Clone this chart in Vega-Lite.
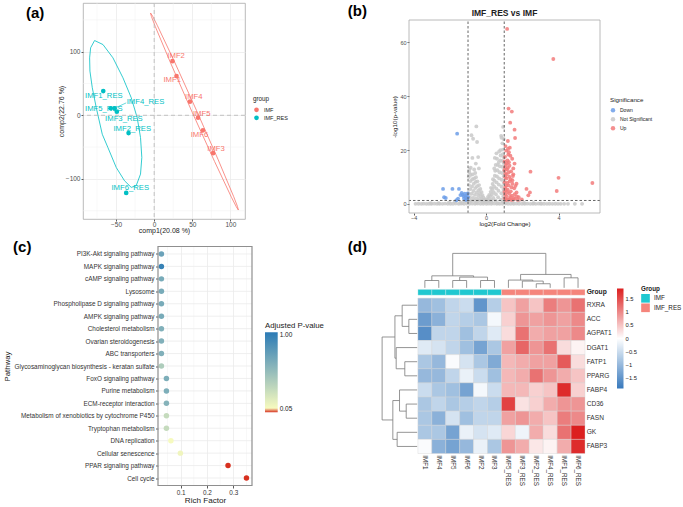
{
 "$schema": "https://vega.github.io/schema/vega-lite/v6.json",
 "padding": {"left": 3, "top": 2, "right": 0, "bottom": 0},
 "datasets": {
  "pca": [
   {"id":"IMF1","group":"IMF","x":29.3,"y":61.6,"lx":23.6,"ly":54.8},
   {"id":"IMF2","group":"IMF","x":24,"y":85,"lx":28.8,"ly":93},
   {"id":"IMF3","group":"IMF","x":77.3,"y":-59.5,"lx":81.2,"ly":-52.2},
   {"id":"IMF4","group":"IMF","x":47,"y":21.4,"lx":52,"ly":28.7},
   {"id":"IMF5","group":"IMF","x":57.6,"y":-3.7,"lx":62.4,"ly":2.6},
   {"id":"IMF6","group":"IMF","x":64,"y":-23.5,"lx":59.4,"ly":-30.8},
   {"id":"IMF1_RES","group":"IMF_RES","x":-66.8,"y":38,"lx":-66,"ly":30.3},
   {"id":"IMF2_RES","group":"IMF_RES","x":-33.6,"y":-28,"lx":-28.8,"ly":-21.4},
   {"id":"IMF3_RES","group":"IMF_RES","x":-49,"y":5.7,"lx":-39.7,"ly":-5.2},
   {"id":"IMF4_RES","group":"IMF_RES","x":-52,"y":11,"lx":-11.4,"ly":21.4,"cx":-36.7,"cy":19.5},
   {"id":"IMF5_RES","group":"IMF_RES","x":-57,"y":11,"lx":-66,"ly":9.4},
   {"id":"IMF6_RES","group":"IMF_RES","x":-36.7,"y":-122,"lx":-31.4,"ly":-115}
  ],
  "ell": [
   {"group":"IMF_RES","i":0,"x":-78.2,"y":117.5},{"group":"IMF_RES","i":1,"x":-83.4,"y":106},{"group":"IMF_RES","i":2,"x":-84.7,"y":90.3},{"group":"IMF_RES","i":3,"x":-84.3,"y":69.5},{"group":"IMF_RES","i":4,"x":-81.2,"y":43.3},{"group":"IMF_RES","i":5,"x":-76,"y":12},{"group":"IMF_RES","i":6,"x":-68.1,"y":-29.8},{"group":"IMF_RES","i":7,"x":-60.7,"y":-50.7},{"group":"IMF_RES","i":8,"x":-49.8,"y":-82},{"group":"IMF_RES","i":9,"x":-38.9,"y":-102.9},{"group":"IMF_RES","i":10,"x":-30.1,"y":-113.3},{"group":"IMF_RES","i":11,"x":-23.6,"y":-110.7},{"group":"IMF_RES","i":12,"x":-17.9,"y":-92.4},{"group":"IMF_RES","i":13,"x":-16.2,"y":-66.3},{"group":"IMF_RES","i":14,"x":-17.9,"y":-35},{"group":"IMF_RES","i":15,"x":-22.3,"y":-3.7},{"group":"IMF_RES","i":16,"x":-30.1,"y":27.7},{"group":"IMF_RES","i":17,"x":-41,"y":59},{"group":"IMF_RES","i":18,"x":-54.1,"y":90.3},{"group":"IMF_RES","i":19,"x":-67.2,"y":111.2},{"group":"IMF_RES","i":20,"x":-78.2,"y":117.5},
   {"group":"IMF","i":0,"x":110.5,"y":-148.9},{"group":"IMF","i":1,"x":109.3,"y":-143.2},{"group":"IMF","i":2,"x":104.2,"y":-127.4},{"group":"IMF","i":3,"x":84.1,"y":-70.1},{"group":"IMF","i":4,"x":55.6,"y":7.5},{"group":"IMF","i":5,"x":26.4,"y":84.8},{"group":"IMF","i":6,"x":4.3,"y":140.8},{"group":"IMF","i":7,"x":-2.1,"y":156},{"group":"IMF","i":8,"x":-4.8,"y":160.8},{"group":"IMF","i":9,"x":-3.6,"y":155.2},{"group":"IMF","i":10,"x":1.5,"y":139.4},{"group":"IMF","i":11,"x":21.6,"y":82.1},{"group":"IMF","i":12,"x":50,"y":4.5},{"group":"IMF","i":13,"x":79.3,"y":-72.7},{"group":"IMF","i":14,"x":101.4,"y":-128.8},{"group":"IMF","i":15,"x":107.9,"y":-144},{"group":"IMF","i":16,"x":110.5,"y":-148.9}
  ],
  "volc": [
   {"fc":-3.9,"p":0.05,"sig":"Not Significant"},{"fc":-3.74,"p":0.1,"sig":"Not Significant"},{"fc":-3.58,"p":0.05,"sig":"Not Significant"},{"fc":-3.45,"p":0.12,"sig":"Not Significant"},{"fc":-3.3,"p":0.05,"sig":"Not Significant"},{"fc":-3.16,"p":0.1,"sig":"Not Significant"},{"fc":-3.02,"p":0.06,"sig":"Not Significant"},{"fc":-2.86,"p":0.12,"sig":"Not Significant"},{"fc":-2.71,"p":0.05,"sig":"Not Significant"},{"fc":-2.57,"p":0.1,"sig":"Not Significant"},{"fc":-2.41,"p":0.06,"sig":"Not Significant"},{"fc":-2.27,"p":0.14,"sig":"Not Significant"},{"fc":-2.12,"p":0.05,"sig":"Not Significant"},{"fc":-1.97,"p":0.1,"sig":"Not Significant"},{"fc":-1.83,"p":0.07,"sig":"Not Significant"},{"fc":-1.68,"p":0.15,"sig":"Not Significant"},{"fc":-1.52,"p":0.06,"sig":"Not Significant"},{"fc":-1.38,"p":0.12,"sig":"Not Significant"},{"fc":-1.22,"p":0.05,"sig":"Not Significant"},{"fc":-1.07,"p":0.18,"sig":"Not Significant"},{"fc":-0.93,"p":0.06,"sig":"Not Significant"},{"fc":-0.77,"p":0.12,"sig":"Not Significant"},{"fc":-0.61,"p":0.05,"sig":"Not Significant"},{"fc":-0.46,"p":0.15,"sig":"Not Significant"},{"fc":-0.31,"p":0.06,"sig":"Not Significant"},{"fc":-0.16,"p":0.1,"sig":"Not Significant"},{"fc":0.01,"p":0.05,"sig":"Not Significant"},{"fc":0.14,"p":0.12,"sig":"Not Significant"},{"fc":0.29,"p":0.06,"sig":"Not Significant"},{"fc":0.44,"p":0.16,"sig":"Not Significant"},{"fc":0.59,"p":0.05,"sig":"Not Significant"},{"fc":0.74,"p":0.1,"sig":"Not Significant"},{"fc":0.9,"p":0.07,"sig":"Not Significant"},{"fc":1.06,"p":0.14,"sig":"Not Significant"},{"fc":1.21,"p":0.05,"sig":"Not Significant"},{"fc":1.36,"p":0.1,"sig":"Not Significant"},{"fc":1.52,"p":0.06,"sig":"Not Significant"},{"fc":1.67,"p":0.12,"sig":"Not Significant"},{"fc":1.82,"p":0.05,"sig":"Not Significant"},{"fc":1.98,"p":0.1,"sig":"Not Significant"},{"fc":2.13,"p":0.06,"sig":"Not Significant"},{"fc":2.28,"p":0.12,"sig":"Not Significant"},{"fc":2.44,"p":0.05,"sig":"Not Significant"},{"fc":2.59,"p":0.1,"sig":"Not Significant"},{"fc":2.74,"p":0.06,"sig":"Not Significant"},{"fc":2.9,"p":0.12,"sig":"Not Significant"},{"fc":3.05,"p":0.05,"sig":"Not Significant"},{"fc":3.2,"p":0.1,"sig":"Not Significant"},{"fc":3.36,"p":0.06,"sig":"Not Significant"},{"fc":3.5,"p":0.1,"sig":"Not Significant"},{"fc":3.66,"p":0.05,"sig":"Not Significant"},{"fc":3.82,"p":0.08,"sig":"Not Significant"},{"fc":3.97,"p":0.05,"sig":"Not Significant"},{"fc":4.12,"p":0.06,"sig":"Not Significant"},{"fc":4.31,"p":0.05,"sig":"Not Significant"},{"fc":4.52,"p":0.05,"sig":"Not Significant"},{"fc":4.9,"p":0.05,"sig":"Not Significant"},{"fc":5.3,"p":0.05,"sig":"Not Significant"},
   {"fc":-2.05,"p":0.6,"sig":"Not Significant"},{"fc":-1.72,"p":0.9,"sig":"Not Significant"},{"fc":-1.43,"p":0.5,"sig":"Not Significant"},{"fc":-1.18,"p":1.1,"sig":"Not Significant"},{"fc":-1.3,"p":0.35,"sig":"Not Significant"},{"fc":1.18,"p":0.8,"sig":"Not Significant"},{"fc":1.48,"p":0.5,"sig":"Not Significant"},{"fc":1.8,"p":1.0,"sig":"Not Significant"},{"fc":2.1,"p":0.4,"sig":"Not Significant"},{"fc":2.62,"p":0.3,"sig":"Not Significant"},{"fc":-2.63,"p":0.3,"sig":"Not Significant"},{"fc":-3.05,"p":0.25,"sig":"Not Significant"},{"fc":3.02,"p":0.2,"sig":"Not Significant"},{"fc":-0.9,"p":0.7,"sig":"Not Significant"},{"fc":-0.55,"p":0.4,"sig":"Not Significant"},{"fc":-0.2,"p":0.5,"sig":"Not Significant"},{"fc":0.3,"p":0.6,"sig":"Not Significant"},{"fc":0.65,"p":0.3,"sig":"Not Significant"},{"fc":0.92,"p":0.9,"sig":"Not Significant"},{"fc":1.1,"p":0.35,"sig":"Not Significant"},
   {"fc":-0.98,"p":1.5,"sig":"Not Significant"},{"fc":-0.97,"p":4,"sig":"Not Significant"},{"fc":-0.95,"p":7,"sig":"Not Significant"},{"fc":-0.96,"p":10,"sig":"Not Significant"},{"fc":-0.93,"p":11.8,"sig":"Not Significant"},{"fc":-0.9,"p":2.5,"sig":"Not Significant"},{"fc":-0.88,"p":5.5,"sig":"Not Significant"},{"fc":-0.86,"p":8.5,"sig":"Not Significant"},{"fc":-0.85,"p":10.8,"sig":"Not Significant"},{"fc":-0.82,"p":1.3,"sig":"Not Significant"},{"fc":-0.8,"p":3.8,"sig":"Not Significant"},{"fc":-0.78,"p":6.5,"sig":"Not Significant"},{"fc":-0.76,"p":9.2,"sig":"Not Significant"},{"fc":-0.74,"p":11,"sig":"Not Significant"},{"fc":-0.72,"p":2.2,"sig":"Not Significant"},{"fc":-0.7,"p":4.8,"sig":"Not Significant"},{"fc":-0.68,"p":7.5,"sig":"Not Significant"},{"fc":-0.66,"p":9.5,"sig":"Not Significant"},{"fc":-0.64,"p":1.2,"sig":"Not Significant"},{"fc":-0.62,"p":3.4,"sig":"Not Significant"},{"fc":-0.6,"p":5.9,"sig":"Not Significant"},{"fc":-0.58,"p":8.2,"sig":"Not Significant"},{"fc":-0.56,"p":9.9,"sig":"Not Significant"},{"fc":-0.54,"p":2.1,"sig":"Not Significant"},{"fc":-0.52,"p":4.3,"sig":"Not Significant"},{"fc":-0.5,"p":6.6,"sig":"Not Significant"},{"fc":-0.48,"p":8.4,"sig":"Not Significant"},{"fc":-0.45,"p":1.1,"sig":"Not Significant"},{"fc":-0.43,"p":3.2,"sig":"Not Significant"},{"fc":-0.41,"p":5.1,"sig":"Not Significant"},{"fc":-0.39,"p":7.0,"sig":"Not Significant"},{"fc":-0.36,"p":2.0,"sig":"Not Significant"},{"fc":-0.34,"p":3.9,"sig":"Not Significant"},{"fc":-0.32,"p":5.6,"sig":"Not Significant"},{"fc":-0.29,"p":1.2,"sig":"Not Significant"},{"fc":-0.27,"p":2.8,"sig":"Not Significant"},{"fc":-0.25,"p":4.4,"sig":"Not Significant"},{"fc":-0.22,"p":1.8,"sig":"Not Significant"},{"fc":-0.2,"p":3.3,"sig":"Not Significant"},{"fc":-0.17,"p":1.0,"sig":"Not Significant"},{"fc":-0.15,"p":2.4,"sig":"Not Significant"},{"fc":-0.12,"p":1.6,"sig":"Not Significant"},{"fc":-0.1,"p":0.8,"sig":"Not Significant"},{"fc":-0.07,"p":1.8,"sig":"Not Significant"},{"fc":-0.05,"p":0.6,"sig":"Not Significant"},{"fc":-0.03,"p":1.2,"sig":"Not Significant"},
   {"fc":-0.54,"p":28.8,"sig":"Not Significant"},{"fc":-0.81,"p":25.5,"sig":"Not Significant"},{"fc":-0.72,"p":24.2,"sig":"Not Significant"},{"fc":-0.5,"p":23,"sig":"Not Significant"},{"fc":-0.76,"p":17.1,"sig":"Not Significant"},{"fc":-0.44,"p":17.4,"sig":"Not Significant"},{"fc":-0.57,"p":15,"sig":"Not Significant"},{"fc":-0.85,"p":13.5,"sig":"Not Significant"},{"fc":-0.66,"p":12.8,"sig":"Not Significant"},{"fc":-0.92,"p":12.9,"sig":"Not Significant"},{"fc":-0.4,"p":13.2,"sig":"Not Significant"},{"fc":-0.6,"p":11.5,"sig":"Not Significant"},
   {"fc":0.04,"p":0.8,"sig":"Not Significant"},{"fc":0.07,"p":1.6,"sig":"Not Significant"},{"fc":0.1,"p":2.6,"sig":"Not Significant"},{"fc":0.12,"p":0.9,"sig":"Not Significant"},{"fc":0.15,"p":2.0,"sig":"Not Significant"},{"fc":0.17,"p":3.4,"sig":"Not Significant"},{"fc":0.2,"p":1.2,"sig":"Not Significant"},{"fc":0.22,"p":2.8,"sig":"Not Significant"},{"fc":0.25,"p":4.5,"sig":"Not Significant"},{"fc":0.27,"p":6,"sig":"Not Significant"},{"fc":0.3,"p":1.5,"sig":"Not Significant"},{"fc":0.32,"p":3.5,"sig":"Not Significant"},{"fc":0.34,"p":5.5,"sig":"Not Significant"},{"fc":0.36,"p":7.4,"sig":"Not Significant"},{"fc":0.38,"p":9.2,"sig":"Not Significant"},{"fc":0.4,"p":2.2,"sig":"Not Significant"},{"fc":0.42,"p":4.4,"sig":"Not Significant"},{"fc":0.44,"p":6.5,"sig":"Not Significant"},{"fc":0.46,"p":8.6,"sig":"Not Significant"},{"fc":0.48,"p":10.5,"sig":"Not Significant"},{"fc":0.5,"p":12.3,"sig":"Not Significant"},{"fc":0.52,"p":1.3,"sig":"Not Significant"},{"fc":0.54,"p":3.6,"sig":"Not Significant"},{"fc":0.56,"p":5.8,"sig":"Not Significant"},{"fc":0.58,"p":8,"sig":"Not Significant"},{"fc":0.6,"p":10.2,"sig":"Not Significant"},{"fc":0.62,"p":12.5,"sig":"Not Significant"},{"fc":0.64,"p":14.5,"sig":"Not Significant"},{"fc":0.66,"p":2.5,"sig":"Not Significant"},{"fc":0.68,"p":4.9,"sig":"Not Significant"},{"fc":0.7,"p":7.2,"sig":"Not Significant"},{"fc":0.72,"p":9.5,"sig":"Not Significant"},{"fc":0.74,"p":11.8,"sig":"Not Significant"},{"fc":0.76,"p":14,"sig":"Not Significant"},{"fc":0.78,"p":16.2,"sig":"Not Significant"},{"fc":0.8,"p":18,"sig":"Not Significant"},{"fc":0.82,"p":1.6,"sig":"Not Significant"},{"fc":0.84,"p":4,"sig":"Not Significant"},{"fc":0.85,"p":6.5,"sig":"Not Significant"},{"fc":0.86,"p":9,"sig":"Not Significant"},{"fc":0.88,"p":11.5,"sig":"Not Significant"},{"fc":0.89,"p":13.8,"sig":"Not Significant"},{"fc":0.9,"p":16,"sig":"Not Significant"},{"fc":0.92,"p":18.5,"sig":"Not Significant"},{"fc":0.93,"p":20.2,"sig":"Not Significant"},{"fc":0.95,"p":2.8,"sig":"Not Significant"},{"fc":0.96,"p":5.3,"sig":"Not Significant"},{"fc":0.97,"p":7.8,"sig":"Not Significant"},{"fc":0.98,"p":10.3,"sig":"Not Significant"},{"fc":0.99,"p":12.7,"sig":"Not Significant"},{"fc":0.97,"p":15.2,"sig":"Not Significant"},{"fc":0.96,"p":17.4,"sig":"Not Significant"},{"fc":0.6,"p":16.8,"sig":"Not Significant"},{"fc":0.7,"p":15.5,"sig":"Not Significant"},{"fc":0.53,"p":14.5,"sig":"Not Significant"},{"fc":0.45,"p":13.2,"sig":"Not Significant"},
   {"fc":0.94,"p":28.6,"sig":"Not Significant"},{"fc":0.85,"p":24.6,"sig":"Not Significant"},{"fc":0.79,"p":20,"sig":"Not Significant"},{"fc":0.57,"p":18.8,"sig":"Not Significant"},{"fc":0.48,"p":17.1,"sig":"Not Significant"},{"fc":0.9,"p":22.5,"sig":"Not Significant"},{"fc":0.72,"p":19.5,"sig":"Not Significant"},{"fc":0.97,"p":24.1,"sig":"Not Significant"},{"fc":0.83,"p":25.3,"sig":"Not Significant"},
   {"fc":-1.6,"p":26.1,"sig":"Down"},{"fc":-2.38,"p":5.6,"sig":"Down"},{"fc":-1.86,"p":5.6,"sig":"Down"},{"fc":-1.5,"p":5.6,"sig":"Down"},{"fc":-2.32,"p":2.5,"sig":"Down"},{"fc":-2.23,"p":2.2,"sig":"Down"},{"fc":-1.35,"p":4.1,"sig":"Down"},{"fc":-1.24,"p":2.9,"sig":"Down"},{"fc":-1.13,"p":2.5,"sig":"Down"},{"fc":-1.0,"p":2.5,"sig":"Down"},{"fc":-1.64,"p":1.4,"sig":"Down"},{"fc":-1.3,"p":3.4,"sig":"Down"},{"fc":-1.18,"p":3.8,"sig":"Down"},{"fc":-1.08,"p":3.1,"sig":"Down"},{"fc":-1.42,"p":3.3,"sig":"Down"},{"fc":-1.22,"p":2.0,"sig":"Down"},{"fc":-1.05,"p":1.7,"sig":"Down"},{"fc":-1.12,"p":1.5,"sig":"Down"},{"fc":-1.55,"p":2.0,"sig":"Down"},{"fc":-1.02,"p":3.9,"sig":"Down"},
   {"fc":1.16,"p":65,"sig":"Up"},{"fc":3.71,"p":53.8,"sig":"Up"},{"fc":1.24,"p":35.4,"sig":"Up"},{"fc":1.42,"p":34.3,"sig":"Up"},{"fc":1.33,"p":30.2,"sig":"Up"},{"fc":1.57,"p":27.6,"sig":"Up"},{"fc":1.6,"p":24.5,"sig":"Up"},{"fc":1.2,"p":23.4,"sig":"Up"},{"fc":1.31,"p":20.9,"sig":"Up"},{"fc":1.57,"p":15,"sig":"Up"},{"fc":2.45,"p":12,"sig":"Up"},{"fc":4.0,"p":9.7,"sig":"Up"},{"fc":5.87,"p":7.8,"sig":"Up"},{"fc":3.9,"p":4.8,"sig":"Up"},{"fc":2.23,"p":5.6,"sig":"Up"},{"fc":2.42,"p":4.3,"sig":"Up"},{"fc":2.33,"p":3.2,"sig":"Up"},{"fc":1.68,"p":7.5,"sig":"Up"},{"fc":1.68,"p":4.3,"sig":"Up"},{"fc":1.5,"p":11,"sig":"Up"},{"fc":1.97,"p":1.7,"sig":"Up"},{"fc":1.8,"p":2.5,"sig":"Up"},{"fc":1.45,"p":8.8,"sig":"Up"},
   {"fc":1.02,"p":2.1,"sig":"Up"},{"fc":1.05,"p":3.5,"sig":"Up"},{"fc":1.08,"p":5.2,"sig":"Up"},{"fc":1.1,"p":6.8,"sig":"Up"},{"fc":1.03,"p":8.1,"sig":"Up"},{"fc":1.12,"p":9.5,"sig":"Up"},{"fc":1.06,"p":11.2,"sig":"Up"},{"fc":1.15,"p":12.8,"sig":"Up"},{"fc":1.09,"p":14.5,"sig":"Up"},{"fc":1.18,"p":16.2,"sig":"Up"},{"fc":1.04,"p":17.5,"sig":"Up"},{"fc":1.22,"p":18.3,"sig":"Up"},{"fc":1.14,"p":15.1,"sig":"Up"},{"fc":1.2,"p":13.4,"sig":"Up"},{"fc":1.25,"p":11.8,"sig":"Up"},{"fc":1.28,"p":10.1,"sig":"Up"},{"fc":1.3,"p":8.4,"sig":"Up"},{"fc":1.24,"p":6.9,"sig":"Up"},{"fc":1.19,"p":5.3,"sig":"Up"},{"fc":1.27,"p":3.9,"sig":"Up"},{"fc":1.33,"p":2.6,"sig":"Up"},{"fc":1.14,"p":1.8,"sig":"Up"},{"fc":1.38,"p":1.5,"sig":"Up"},{"fc":1.42,"p":3.1,"sig":"Up"},{"fc":1.36,"p":4.7,"sig":"Up"},{"fc":1.4,"p":6.2,"sig":"Up"},{"fc":1.45,"p":7.5,"sig":"Up"},{"fc":1.35,"p":9.2,"sig":"Up"},{"fc":1.48,"p":10.4,"sig":"Up"},{"fc":1.38,"p":12.1,"sig":"Up"},{"fc":1.29,"p":14.2,"sig":"Up"},{"fc":1.11,"p":19.8,"sig":"Up"},{"fc":1.21,"p":20.5,"sig":"Up"},{"fc":1.07,"p":21.5,"sig":"Up"},{"fc":1.02,"p":12.5,"sig":"Up"},{"fc":1.02,"p":15.8,"sig":"Up"},{"fc":1.05,"p":6.1,"sig":"Up"},{"fc":1.16,"p":4.4,"sig":"Up"},{"fc":1.12,"p":2.9,"sig":"Up"},{"fc":1.52,"p":2.2,"sig":"Up"},{"fc":1.58,"p":3.6,"sig":"Up"},{"fc":1.55,"p":5.8,"sig":"Up"},{"fc":1.62,"p":6.7,"sig":"Up"},{"fc":1.5,"p":13.2,"sig":"Up"},{"fc":1.44,"p":16.8,"sig":"Up"},{"fc":1.34,"p":17.9,"sig":"Up"},{"fc":1.26,"p":19.2,"sig":"Up"},{"fc":1.06,"p":9.9,"sig":"Up"},{"fc":1.09,"p":1.5,"sig":"Up"},{"fc":1.23,"p":1.6,"sig":"Up"},{"fc":1.31,"p":1.9,"sig":"Up"},{"fc":1.47,"p":1.6,"sig":"Up"},{"fc":1.6,"p":1.9,"sig":"Up"},{"fc":1.7,"p":2.8,"sig":"Up"},{"fc":1.75,"p":1.5,"sig":"Up"},{"fc":1.17,"p":7.8,"sig":"Up"},{"fc":1.01,"p":4.5,"sig":"Up"},{"fc":1.13,"p":11,"sig":"Up"},{"fc":1.26,"p":15.5,"sig":"Up"},{"fc":1.04,"p":13.6,"sig":"Up"}
  ],
  "kegg": [
   {"path":"PI3K-Akt signaling pathway","rf":0.027,"padj":0.72},
   {"path":"MAPK signaling pathway","rf":0.027,"padj":0.95},
   {"path":"cAMP signaling pathway","rf":0.027,"padj":0.66},
   {"path":"Lysosome","rf":0.027,"padj":0.66},
   {"path":"Phospholipase D signaling pathway","rf":0.027,"padj":0.66},
   {"path":"AMPK signaling pathway","rf":0.027,"padj":0.66},
   {"path":"Cholesterol metabolism","rf":0.027,"padj":0.62},
   {"path":"Ovarian steroidogenesis","rf":0.027,"padj":0.62},
   {"path":"ABC transporters","rf":0.027,"padj":0.62},
   {"path":"Glycosaminoglycan biosynthesis - keratan sulfate","rf":0.027,"padj":0.42},
   {"path":"FoxO signaling pathway","rf":0.046,"padj":0.64},
   {"path":"Purine metabolism","rf":0.046,"padj":0.64},
   {"path":"ECM-receptor interaction","rf":0.046,"padj":0.6},
   {"path":"Metabolism of xenobiotics by cytochrome P450","rf":0.046,"padj":0.32},
   {"path":"Tryptophan metabolism","rf":0.046,"padj":0.32},
   {"path":"DNA replication","rf":0.063,"padj":0.1},
   {"path":"Cellular senescence","rf":0.099,"padj":0.13},
   {"path":"PPAR signaling pathway","rf":0.28,"padj":0.05},
   {"path":"Cell cycle","rf":0.35,"padj":0.05}
  ],
  "cols": [
   {"sample":"IMF1","group":"IMF","c0":0,"c1":1,"cm":0.5},
   {"sample":"IMF4","group":"IMF","c0":1,"c1":2,"cm":1.5},
   {"sample":"IMF5","group":"IMF","c0":2,"c1":3,"cm":2.5},
   {"sample":"IMF6","group":"IMF","c0":3,"c1":4,"cm":3.5},
   {"sample":"IMF2","group":"IMF","c0":4,"c1":5,"cm":4.5},
   {"sample":"IMF3","group":"IMF","c0":5,"c1":6,"cm":5.5},
   {"sample":"IMF5_RES","group":"IMF_RES","c0":6,"c1":7,"cm":6.5},
   {"sample":"IMF3_RES","group":"IMF_RES","c0":7,"c1":8,"cm":7.5},
   {"sample":"IMF2_RES","group":"IMF_RES","c0":8,"c1":9,"cm":8.5},
   {"sample":"IMF4_RES","group":"IMF_RES","c0":9,"c1":10,"cm":9.5},
   {"sample":"IMF1_RES","group":"IMF_RES","c0":10,"c1":11,"cm":10.5},
   {"sample":"IMF6_RES","group":"IMF_RES","c0":11,"c1":12,"cm":11.5}
  ],
  "heat": [
   {"gene":"RXRA","r0":0,"r1":1,"rm":0.5,"IMF1":-1.0,"IMF4":-0.9,"IMF5":-0.6,"IMF6":-0.5,"IMF2":-1.5,"IMF3":-0.7,"IMF5_RES":0.5,"IMF3_RES":0.8,"IMF2_RES":0.5,"IMF4_RES":1.1,"IMF1_RES":0.9,"IMF6_RES":1.2},
   {"gene":"ACC","r0":1,"r1":2,"rm":1.5,"IMF1":-1.4,"IMF4":-1.1,"IMF5":-0.6,"IMF6":-0.7,"IMF2":-0.8,"IMF3":-0.1,"IMF5_RES":0.4,"IMF3_RES":0.9,"IMF2_RES":0.8,"IMF4_RES":0.9,"IMF1_RES":0.8,"IMF6_RES":1.0},
   {"gene":"AGPAT1","r0":2,"r1":3,"rm":2.5,"IMF1":-1.6,"IMF4":-0.6,"IMF5":-0.6,"IMF6":-0.9,"IMF2":-0.6,"IMF3":-0.3,"IMF5_RES":0.3,"IMF3_RES":1.2,"IMF2_RES":0.7,"IMF4_RES":0.8,"IMF1_RES":0.8,"IMF6_RES":1.0},
   {"gene":"DGAT1","r0":3,"r1":4,"rm":3.5,"IMF1":-0.3,"IMF4":-0.4,"IMF5":-0.6,"IMF6":-0.9,"IMF2":-1.3,"IMF3":-0.8,"IMF5_RES":0.8,"IMF3_RES":1.3,"IMF2_RES":0.9,"IMF4_RES":1.2,"IMF1_RES":0.3,"IMF6_RES":0.1},
   {"gene":"FATP1","r0":4,"r1":5,"rm":4.5,"IMF1":-0.8,"IMF4":-1.0,"IMF5":-0.05,"IMF6":-0.4,"IMF2":-0.8,"IMF3":-1.2,"IMF5_RES":0.6,"IMF3_RES":0.7,"IMF2_RES":0.8,"IMF4_RES":0.8,"IMF1_RES":1.4,"IMF6_RES":0.3},
   {"gene":"PPARG","r0":5,"r1":6,"rm":5.5,"IMF1":-1.0,"IMF4":-1.0,"IMF5":-0.6,"IMF6":-0.2,"IMF2":-0.5,"IMF3":-0.9,"IMF5_RES":0.6,"IMF3_RES":0.7,"IMF2_RES":1.2,"IMF4_RES":0.9,"IMF1_RES":0.7,"IMF6_RES":0.5},
   {"gene":"FABP4","r0":6,"r1":7,"rm":6.5,"IMF1":-0.5,"IMF4":-0.8,"IMF5":-0.9,"IMF6":-1.3,"IMF2":-0.1,"IMF3":-0.5,"IMF5_RES":0.6,"IMF3_RES":0.6,"IMF2_RES":0.4,"IMF4_RES":0.5,"IMF1_RES":1.8,"IMF6_RES":0.4},
   {"gene":"CD36","r0":7,"r1":8,"rm":7.5,"IMF1":-0.8,"IMF4":-0.6,"IMF5":-0.8,"IMF6":-0.7,"IMF2":-0.6,"IMF3":-0.7,"IMF5_RES":1.6,"IMF3_RES":0.25,"IMF2_RES":0.4,"IMF4_RES":0.7,"IMF1_RES":0.9,"IMF6_RES":0.9},
   {"gene":"FASN","r0":8,"r1":9,"rm":8.5,"IMF1":-0.8,"IMF4":-1.1,"IMF5":-0.4,"IMF6":-0.9,"IMF2":-0.6,"IMF3":-0.6,"IMF5_RES":0.8,"IMF3_RES":0.9,"IMF2_RES":0.7,"IMF4_RES":0.5,"IMF1_RES":1.1,"IMF6_RES":1.0},
   {"gene":"GK","r0":9,"r1":10,"rm":9.5,"IMF1":-0.8,"IMF4":-0.8,"IMF5":-1.3,"IMF6":-0.2,"IMF2":-0.4,"IMF3":-0.3,"IMF5_RES":0.35,"IMF3_RES":-0.15,"IMF2_RES":0.7,"IMF4_RES":0.3,"IMF1_RES":1.2,"IMF6_RES":1.9},
   {"gene":"FABP3","r0":10,"r1":11,"rm":10.5,"IMF1":-0.05,"IMF4":-1.1,"IMF5":-1.3,"IMF6":-1.0,"IMF2":-0.2,"IMF3":-0.8,"IMF5_RES":0.9,"IMF3_RES":0.7,"IMF2_RES":0.2,"IMF4_RES":0.1,"IMF1_RES":0.7,"IMF6_RES":1.8}
  ],
  "dend": [
   {"x1":0.5,"x2":0.5,"y1":-0.73,"y2":-1.25},{"x1":1.5,"x2":1.5,"y1":-0.73,"y2":-1.25},{"x1":0.5,"x2":1.5,"y1":-1.25,"y2":-1.25},
   {"x1":2.5,"x2":2.5,"y1":-0.73,"y2":-1.25},{"x1":3.5,"x2":3.5,"y1":-0.73,"y2":-1.25},{"x1":2.5,"x2":3.5,"y1":-1.25,"y2":-1.25},
   {"x1":4.5,"x2":4.5,"y1":-0.73,"y2":-1.25},{"x1":5.5,"x2":5.5,"y1":-0.73,"y2":-1.25},{"x1":4.5,"x2":5.5,"y1":-1.25,"y2":-1.25},
   {"x1":3,"x2":3,"y1":-1.25,"y2":-1.49},{"x1":5,"x2":5,"y1":-1.25,"y2":-1.49},{"x1":3,"x2":5,"y1":-1.49,"y2":-1.49},
   {"x1":1,"x2":1,"y1":-1.25,"y2":-1.58},{"x1":4,"x2":4,"y1":-1.49,"y2":-1.58},{"x1":1,"x2":4,"y1":-1.58,"y2":-1.58},
   {"x1":8.5,"x2":8.5,"y1":-0.73,"y2":-1.02},{"x1":9.5,"x2":9.5,"y1":-0.73,"y2":-1.02},{"x1":8.5,"x2":9.5,"y1":-1.02,"y2":-1.02},
   {"x1":7.5,"x2":7.5,"y1":-0.73,"y2":-1.21},{"x1":9,"x2":9,"y1":-1.02,"y2":-1.21},{"x1":7.5,"x2":9,"y1":-1.21,"y2":-1.21},
   {"x1":6.5,"x2":6.5,"y1":-0.73,"y2":-1.28},{"x1":8.25,"x2":8.25,"y1":-1.21,"y2":-1.28},{"x1":6.5,"x2":8.25,"y1":-1.28,"y2":-1.28},
   {"x1":10.5,"x2":10.5,"y1":-0.73,"y2":-1.44},{"x1":11.5,"x2":11.5,"y1":-0.73,"y2":-1.44},{"x1":10.5,"x2":11.5,"y1":-1.44,"y2":-1.44},
   {"x1":7.375,"x2":7.375,"y1":-1.28,"y2":-1.68},{"x1":11,"x2":11,"y1":-1.44,"y2":-1.68},{"x1":7.375,"x2":11,"y1":-1.68,"y2":-1.68},
   {"x1":2.5,"x2":2.5,"y1":-1.58,"y2":-3.17},{"x1":9.1875,"x2":9.1875,"y1":-1.68,"y2":-3.17},{"x1":2.5,"x2":9.1875,"y1":-3.17,"y2":-3.17},
   {"x1":-0.05,"x2":-0.65,"y1":1.5,"y2":1.5},{"x1":-0.05,"x2":-0.65,"y1":2.5,"y2":2.5},{"x1":-0.65,"x2":-0.65,"y1":1.5,"y2":2.5},
   {"x1":-0.05,"x2":-1.13,"y1":0.5,"y2":0.5},{"x1":-0.65,"x2":-1.13,"y1":2,"y2":2},{"x1":-1.13,"x2":-1.13,"y1":0.5,"y2":2},
   {"x1":-0.05,"x2":-0.94,"y1":4.5,"y2":4.5},{"x1":-0.05,"x2":-0.94,"y1":5.5,"y2":5.5},{"x1":-0.94,"x2":-0.94,"y1":4.5,"y2":5.5},
   {"x1":-0.05,"x2":-1.56,"y1":3.5,"y2":3.5},{"x1":-0.94,"x2":-1.56,"y1":5,"y2":5},{"x1":-1.56,"x2":-1.56,"y1":3.5,"y2":5},
   {"x1":-1.13,"x2":-1.65,"y1":1.25,"y2":1.25},{"x1":-1.56,"x2":-1.65,"y1":4.25,"y2":4.25},{"x1":-1.65,"x2":-1.65,"y1":1.25,"y2":4.25},
   {"x1":-0.05,"x2":-0.84,"y1":7.5,"y2":7.5},{"x1":-0.05,"x2":-0.84,"y1":8.5,"y2":8.5},{"x1":-0.84,"x2":-0.84,"y1":7.5,"y2":8.5},
   {"x1":-0.05,"x2":-1.32,"y1":6.5,"y2":6.5},{"x1":-0.84,"x2":-1.32,"y1":8,"y2":8},{"x1":-1.32,"x2":-1.32,"y1":6.5,"y2":8},
   {"x1":-0.05,"x2":-1.49,"y1":9.5,"y2":9.5},{"x1":-0.05,"x2":-1.49,"y1":10.5,"y2":10.5},{"x1":-1.49,"x2":-1.49,"y1":9.5,"y2":10.5},
   {"x1":-1.32,"x2":-1.8,"y1":7.25,"y2":7.25},{"x1":-1.49,"x2":-1.8,"y1":10,"y2":10},{"x1":-1.8,"x2":-1.8,"y1":7.25,"y2":10},
   {"x1":-1.65,"x2":-2.57,"y1":2.75,"y2":2.75},{"x1":-1.8,"x2":-2.57,"y1":8.625,"y2":8.625},{"x1":-2.57,"x2":-2.57,"y1":2.75,"y2":8.625}
  ]
 },
 "columns": 2,
 "align": "none",
 "spacing": {"row": 5.5, "column": 23},
 "resolve": {"scale": {"color": "independent", "fill": "independent"}, "legend": {"color": "independent", "fill": "independent"}},
 "concat": [
  {
   "width": 162, "height": 216,
   "view": {"stroke": "#a8a8a8", "strokeWidth": 0.8},
   "title": {"text": "(a)", "orient": "left", "anchor": "end", "angle": 0, "align": "left", "baseline": "top", "fontSize": 15, "fontWeight": "bold", "offset": 13, "dy": 3},
   "layer": [
    {"data": {"values": [{"v": -75}, {"v": -25}, {"v": 25}, {"v": 75}]}, "mark": {"type": "rule", "color": "#f0f0f0", "strokeWidth": 0.5}, "encoding": {"x": {"field": "v", "type": "quantitative", "scale": {"domain": [-93.4, 119.2], "nice": false, "zero": false},
            "axis": {"title": "comp1(20.08 %)", "grid": true, "gridColor": "#ebebeb", "gridWidth": 0.8, "labelOverlap": false, "values": [-50,0,50,100], "tickSize": 2, "labelPadding": 0, "titlePadding": -1}}}},
    {"data": {"values": [{"v": -150}, {"v": -50}, {"v": 50}, {"v": 150}]}, "mark": {"type": "rule", "color": "#f0f0f0", "strokeWidth": 0.5}, "encoding": {"y": {"field": "v", "type": "quantitative", "scale": {"domain": [-163, 176.5], "nice": false, "zero": false},
            "axis": {"title": "comp2(22.76 %)", "grid": true, "gridColor": "#ebebeb", "gridWidth": 0.8, "labelOverlap": false, "values": [-100,0,100], "tickSize": 2, "labelPadding": 1, "titlePadding": 1}}}},
    {"data": {"name": "ell"}, "transform": [{"filter": "datum.group === 'IMF_RES'"}], "mark": {"type": "line", "strokeWidth": 0.8, "color": "#00BFC4"}, "encoding": {"x": {"field": "x", "type": "quantitative"}, "y": {"field": "y", "type": "quantitative"}, "order": {"field": "i"}}},
    {"data": {"name": "ell"}, "transform": [{"filter": "datum.group === 'IMF'"}], "mark": {"type": "line", "strokeWidth": 0.8, "color": "#F8766D"}, "encoding": {"x": {"field": "x", "type": "quantitative"}, "y": {"field": "y", "type": "quantitative"}, "order": {"field": "i"}}},
    {"data": {"values": [{"v": 0}]}, "mark": {"type": "rule", "strokeDash": [4,3], "color": "#b5b5b5", "strokeWidth": 0.8}, "encoding": {"x": {"field": "v", "type": "quantitative"}}},
    {"data": {"values": [{"v": 0}]}, "mark": {"type": "rule", "strokeDash": [4,3], "color": "#b5b5b5", "strokeWidth": 0.8}, "encoding": {"y": {"field": "v", "type": "quantitative"}}},
    {
     "data": {"name": "pca"},
     "mark": {"type": "point", "filled": true, "size": 22, "opacity": 1},
     "encoding": {
      "x": {"field": "x", "type": "quantitative"},
      "y": {"field": "y", "type": "quantitative"},
      "color": {"field": "group", "type": "nominal", "scale": {"domain": ["IMF","IMF_RES"], "range": ["#F8766D","#00BFC4"]},
                "legend": {"orient": "none", "legendX": 170, "legendY": 93, "title": "group", "titleFontSize": 6.3, "labelFontSize": 5.5, "symbolSize": 22, "symbolType": "circle", "rowPadding": 1, "titlePadding": 4}}
     }
    },
    {
     "data": {"name": "pca"},
     "transform": [{"filter": "isValid(datum.cx)"}],
     "mark": {"type": "rule", "strokeWidth": 0.6, "color": "#00BFC4"},
     "encoding": {
      "x": {"field": "x", "type": "quantitative"}, "y": {"field": "y", "type": "quantitative"},
      "x2": {"field": "cx"}, "y2": {"field": "cy"}
     }
    },
    {"data": {"name": "pca"}, "transform": [{"filter": "datum.group === 'IMF'"}], "mark": {"type": "text", "fontSize": 7.7, "align": "center", "baseline": "middle", "color": "#F8766D"}, "encoding": {"x": {"field": "lx", "type": "quantitative"}, "y": {"field": "ly", "type": "quantitative"}, "text": {"field": "id"}}},
    {"data": {"name": "pca"}, "transform": [{"filter": "datum.group === 'IMF_RES'"}], "mark": {"type": "text", "fontSize": 7.7, "align": "center", "baseline": "middle", "color": "#00BFC4"}, "encoding": {"x": {"field": "lx", "type": "quantitative"}, "y": {"field": "ly", "type": "quantitative"}, "text": {"field": "id"}}}
   ]
  },
  {
   "title": {"text": "(b)", "orient": "left", "anchor": "end", "angle": 0, "align": "left", "baseline": "top", "fontSize": 15, "fontWeight": "bold", "offset": 25, "dy": 1},
   "hconcat": [
    {
     "width": 191, "height": 210,
     "title": {"text": "IMF_RES vs IMF", "fontSize": 8.5, "fontWeight": "bold", "offset": -10.7, "dy": 8, "baseline": "middle", "anchor": "middle", "frame": "group", "color": "#222222"},
     "layer": [
      {
       "data": {"name": "volc"},
       "mark": {"type": "circle", "size": 15, "opacity": 0.85},
       "encoding": {
        "x": {"field": "fc", "type": "quantitative", "scale": {"domain": [-4.26, 6.29], "nice": false, "zero": false}, "axis": {"title": "log2(Fold Change)", "labelOverlap": false, "values": [-4,-2,0,2,4,6], "titleFontSize": 6.2, "labelFontSize": 5.5, "tickSize": 2, "labelPadding": 0.5, "titlePadding": -0.5}},
        "y": {"field": "p", "type": "quantitative", "scale": {"domain": [-3.35, 68.3], "nice": false, "zero": false, "range": [210, 17]}, "axis": {"title": "-log10(p-value)", "labelOverlap": false, "values": [0,20,40,60], "titleFontSize": 6.2, "labelFontSize": 5.5, "tickSize": 2}},
        "color": {"field": "sig", "type": "nominal", "scale": {"domain": ["Down","Not Significant","Up"], "range": ["#6C9DE8","#C9C9C9","#F27B7B"]},
                  "legend": {"orient": "none", "legendX": 201, "legendY": 94, "title": "Significance", "titleFontSize": 6.2, "labelFontSize": 5, "symbolSize": 20, "symbolType": "circle", "rowPadding": 3, "titlePadding": 4}}
       }
      },
      {"data": {"values": [{"v": -1}, {"v": 1}]}, "mark": {"type": "rule", "strokeDash": [2.5,2], "color": "#555555", "strokeWidth": 0.9}, "encoding": {"x": {"field": "v", "type": "quantitative"}, "y": {"datum": -3.35, "type": "quantitative"}, "y2": {"datum": 68.3}}},
      {"data": {"values": [{"v": 1.3}]}, "mark": {"type": "rule", "strokeDash": [2.5,2], "color": "#555555", "strokeWidth": 0.9}, "encoding": {"y": {"field": "v", "type": "quantitative"}}},
      {"data": {"values": [{}]}, "mark": {"type": "rect", "fillOpacity": 0, "stroke": "#a8a8a8", "strokeWidth": 0.8}, "encoding": {"x": {"datum": -4.26, "type": "quantitative"}, "x2": {"datum": 6.29}, "y": {"datum": -3.35, "type": "quantitative"}, "y2": {"datum": 68.3}}}
     ]
    }
   ]
  },
  {
   "width": 169, "height": 239,
   "title": {"text": "(c)", "orient": "top", "anchor": "start", "frame": "bounds", "align": "left", "baseline": "top", "fontSize": 15, "fontWeight": "bold", "offset": 5, "dx": 10, "dy": 14},
   "layer": [
    {"data": {"values": [{"v": 0.05}, {"v": 0.15}, {"v": 0.25}, {"v": 0.35}]}, "mark": {"type": "rule", "color": "#f0f0f0", "strokeWidth": 0.5}, "encoding": {"x": {"field": "v", "type": "quantitative"}}},
    {"data": {"name": "kegg"}, "mark": {"type": "rule", "color": "#ebebeb", "strokeWidth": 0.8}, "encoding": {"y": {"field": "path", "type": "nominal", "sort": null}, "x": {"datum": 0.014, "type": "quantitative"}, "x2": {"datum": 0.371}}},
    {
     "data": {"name": "kegg"},
     "mark": {"type": "circle", "size": 30, "opacity": 1},
     "encoding": {
      "y": {"field": "path", "type": "nominal", "sort": null, "scale": {"type": "point", "padding": 0.6},
            "axis": {"title": "Pathway", "grid": false, "offset": -75, "labelOverlap": false, "labelFontSize": 6.4, "labelColor": "#333333", "titleFontSize": 7.8, "titlePadding": 3, "labelPadding": 1.5}},
      "x": {"field": "rf", "type": "quantitative", "scale": {"domain": [0.014, 0.371], "nice": false, "zero": false, "range": [75, 169]},
            "axis": {"title": "Rich Factor", "titleFontSize": 8.1, "labelOverlap": false, "values": [0.1,0.2,0.3], "format": ".1f", "labelFontSize": 6.4, "labelColor": "#333333", "grid": true, "gridColor": "#ebebeb", "gridWidth": 0.8, "tickSize": 2.5, "labelPadding": 1, "titlePadding": 1}},
      "color": {"field": "padj", "type": "quantitative",
                "scale": {"domain": [0.05, 0.062, 1], "range": ["#d7301f", "#ffffbf", "#2c7bb6"], "interpolate": "rgb"},
                "legend": {"orient": "none", "legendX": 182, "legendY": 75, "title": "Adjusted P-value", "titleFontSize": 7.8, "labelFontSize": 6.5, "gradientLength": 80, "gradientThickness": 12.7, "values": [0.05, 1], "format": ".2f", "titlePadding": 3}}
     }
    },
    {"data": {"values": [{}]}, "mark": {"type": "rect", "fillOpacity": 0, "stroke": "#8f8f8f", "strokeWidth": 1.2}, "encoding": {"x": {"datum": 0.014, "type": "quantitative"}, "x2": {"datum": 0.371}}}
   ]
  },
  {
   "width": 204, "height": 210,
   "title": {"text": "(d)", "orient": "left", "anchor": "end", "angle": 0, "align": "left", "baseline": "top", "fontSize": 15, "fontWeight": "bold", "offset": 14, "dy": -4},
   "resolve": {"scale": {"color": "independent", "fill": "independent"}},
   "layer": [
    {
     "data": {"name": "dend"},
     "mark": {"type": "rule", "color": "#7a7a7a", "strokeWidth": 0.8},
     "encoding": {
      "x": {"field": "x1", "type": "quantitative", "scale": {"domain": [-2.65, 12], "nice": false, "zero": false}, "axis": null},
      "x2": {"field": "x2"},
      "y": {"field": "y1", "type": "quantitative", "scale": {"domain": [-3.87, 11], "nice": false, "zero": false, "reverse": true}, "axis": null},
      "y2": {"field": "y2"}
     }
    },
    {
     "data": {"name": "cols"},
     "mark": {"type": "rect", "stroke": "#f0f0f0", "strokeWidth": 0.3},
     "encoding": {
      "x": {"field": "c0", "type": "quantitative", "axis": null},
      "x2": {"field": "c1"},
      "y": {"datum": -0.62, "type": "quantitative", "axis": null},
      "y2": {"datum": -0.21},
      "fill": {"field": "group", "type": "nominal", "scale": {"domain": ["IMF","IMF_RES"], "range": ["#20C8D0","#F5857C"]},
               "legend": {"orient": "none", "legendX": 260, "legendY": 42, "title": "Group", "titleFontWeight": "bold", "titleFontSize": 6.3, "labelFontSize": 6.3, "symbolType": "square", "symbolSize": 75, "symbolStrokeWidth": 0, "rowPadding": 0.5, "titlePadding": 2}}
     }
    },
    {
     "data": {"name": "heat"},
     "transform": [
      {"fold": ["IMF1","IMF4","IMF5","IMF6","IMF2","IMF3","IMF5_RES","IMF3_RES","IMF2_RES","IMF4_RES","IMF1_RES","IMF6_RES"], "as": ["sample","v"]},
      {"lookup": "sample", "from": {"data": {"name": "cols"}, "key": "sample", "fields": ["c0","c1"]}}
     ],
     "mark": {"type": "rect", "stroke": "#d4d4d4", "strokeWidth": 0.4},
     "encoding": {
      "x": {"field": "c0", "type": "quantitative", "axis": null},
      "x2": {"field": "c1"},
      "y": {"field": "r0", "type": "quantitative", "axis": null},
      "y2": {"field": "r1"},
      "color": {"field": "v", "type": "quantitative", "scale": {"domain": [-1.9, 0, 1.9], "range": ["#3779bd", "#ffffff", "#dc1f1f"], "interpolate": "rgb"},
                "legend": {"orient": "none", "legendX": 236, "legendY": 45, "title": null, "gradientLength": 100, "gradientThickness": 6.5, "labelFontSize": 5.8, "labelOverlap": false, "format": ".1~f", "values": [-1.5,-1,-0.5,0,0.5,1,1.5]}}
     }
    },
    {
     "data": {"name": "heat"},
     "mark": {"type": "text", "align": "left", "baseline": "middle", "fontSize": 6.6, "color": "#333333"},
     "encoding": {
      "x": {"datum": 12.12, "type": "quantitative"},
      "y": {"field": "rm", "type": "quantitative"},
      "text": {"field": "gene"}
     }
    },
    {
     "data": {"name": "cols"},
     "mark": {"type": "text", "align": "left", "baseline": "middle", "angle": 90, "fontSize": 6.3, "color": "#333333"},
     "encoding": {
      "x": {"field": "cm", "type": "quantitative"},
      "y": {"datum": 11.12, "type": "quantitative"},
      "text": {"field": "sample"}
     }
    },
    {
     "data": {"values": [{"label": "Group"}]},
     "mark": {"type": "text", "align": "left", "baseline": "middle", "fontSize": 6.7, "fontWeight": "bold", "color": "#222222"},
     "encoding": {
      "x": {"datum": 12.12, "type": "quantitative"},
      "y": {"datum": -0.42, "type": "quantitative"},
      "text": {"field": "label"}
     }
    }
   ]
  }
 ],
 "config": {
  "font": "Liberation Sans",
  "view": {"stroke": null},
  "axis": {"labelFontSize": 6.5, "titleFontSize": 7, "labelColor": "#4d4d4d", "titleColor": "#1a1a1a", "titleFontWeight": "normal", "tickColor": "#333333", "tickSize": 2.5, "tickWidth": 0.8, "domain": false, "grid": false, "labelPadding": 1, "titlePadding": 2},
  "legend": {"titleFontWeight": "normal", "titleColor": "#1a1a1a", "labelColor": "#1a1a1a"},
  "title": {"color": "#000000"}
 }
}
